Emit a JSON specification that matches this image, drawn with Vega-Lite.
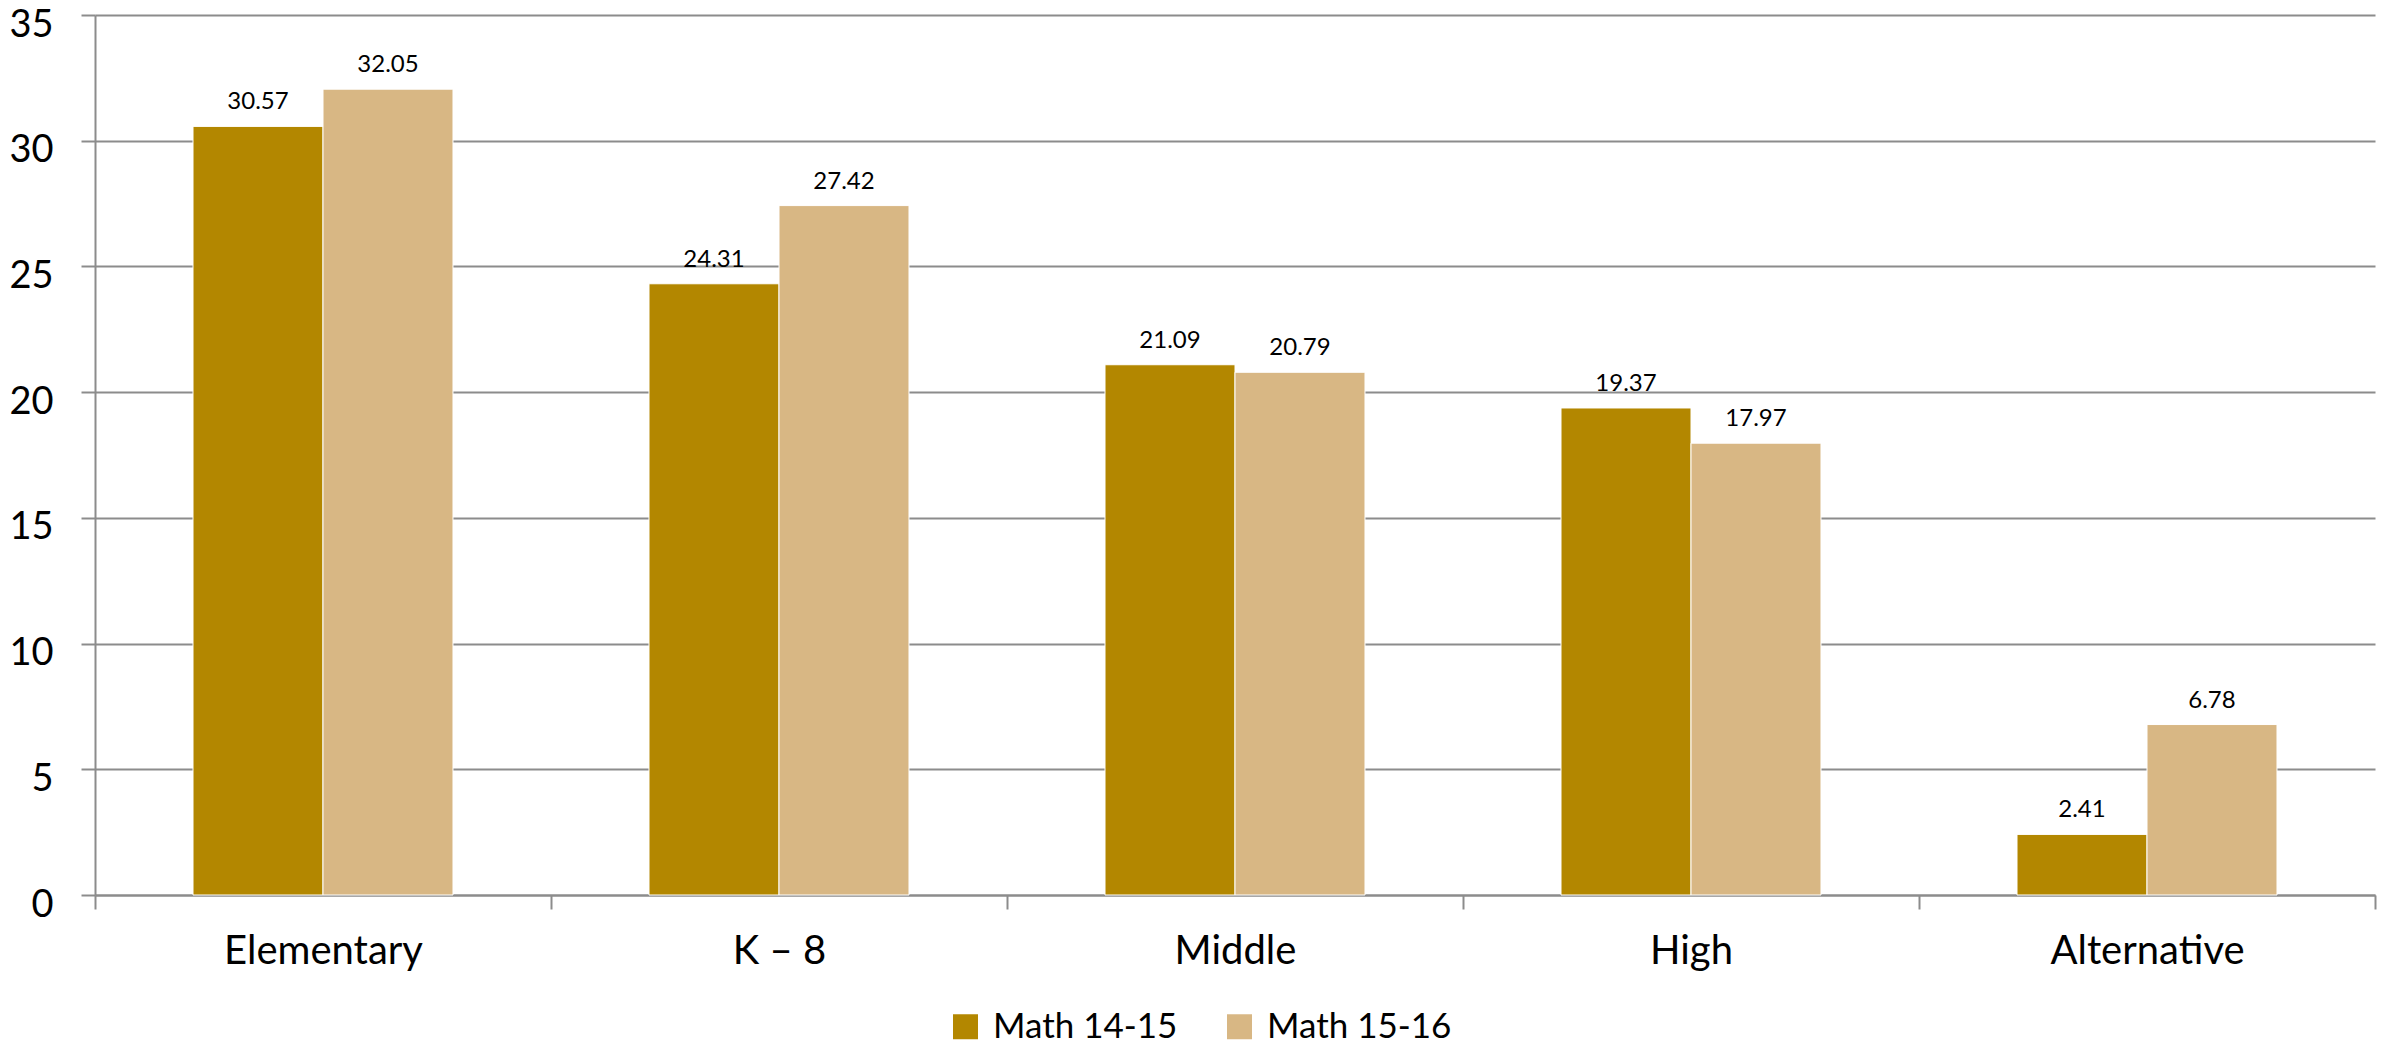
{
  "$schema": "https://vega.github.io/schema/vega-lite/v6.json",
  "autosize": "none",
  "width": 2280,
  "height": 880,
  "padding": {"left": 95, "top": 15, "right": 12, "bottom": 153},
  "background": "white",
  "config": {
    "view": {"stroke": null},
    "font": "Lato",
    "axis": {"labelFont": "Lato", "labelColor": "#000000"}
  },
  "data": {
    "values": [
      {"cat": "Elementary", "series": "Math 14-15", "value": 30.57},
      {"cat": "Elementary", "series": "Math 15-16", "value": 32.05},
      {"cat": "K – 8", "series": "Math 14-15", "value": 24.31},
      {"cat": "K – 8", "series": "Math 15-16", "value": 27.42},
      {"cat": "Middle", "series": "Math 14-15", "value": 21.09},
      {"cat": "Middle", "series": "Math 15-16", "value": 20.79},
      {"cat": "High", "series": "Math 14-15", "value": 19.37},
      {"cat": "High", "series": "Math 15-16", "value": 17.97},
      {"cat": "Alternative", "series": "Math 14-15", "value": 2.41},
      {"cat": "Alternative", "series": "Math 15-16", "value": 6.78}
    ]
  },
  "encoding": {
    "x": {
      "field": "cat",
      "type": "nominal",
      "sort": null,
      "title": null,
      "scale": {"paddingInner": 0, "paddingOuter": 0},
      "axis": {
        "tickBand": "extent",
        "labelAngle": 0,
        "labelFontSize": 40,
        "labelLimit": 0,
        "labelPadding": 22,
        "tickSize": 14,
        "tickColor": "#8c8c8c",
        "tickWidth": 2,
        "domainColor": "#8c8c8c",
        "domainWidth": 2,
        "grid": false
      }
    },
    "xOffset": {
      "field": "series",
      "type": "nominal",
      "sort": null,
      "scale": {"paddingInner": 0, "paddingOuter": 0.754}
    },
    "y": {
      "field": "value",
      "type": "quantitative",
      "title": null,
      "scale": {"domain": [0, 35], "nice": false},
      "axis": {
        "values": [0, 5, 10, 15, 20, 25, 30, 35],
        "labelFontSize": 38,
        "labelPadding": 28,
        "labelOffset": 10,
        "tickSize": 14,
        "tickColor": "#8c8c8c",
        "tickWidth": 2,
        "domainColor": "#8c8c8c",
        "domainWidth": 2,
        "grid": true,
        "gridColor": "#8c8c8c",
        "gridWidth": 2
      }
    }
  },
  "layer": [
    {
      "mark": {"type": "bar", "stroke": "white", "strokeWidth": 1},
      "encoding": {
        "color": {
          "field": "series",
          "type": "nominal",
          "sort": null,
          "scale": {"domain": ["Math 14-15", "Math 15-16"], "range": ["#B38700", "#D8B784"]},
          "legend": {
            "title": null,
            "orient": "none",
            "direction": "horizontal",
            "legendX": 853,
            "legendY": 994,
            "symbolType": "square",
            "symbolSize": 625,
            "symbolStrokeWidth": 0,
            "labelFontSize": 35,
            "labelFont": "Lato",
            "labelColor": "#000000",
            "labelLimit": 0,
            "labelOffset": 10,
            "columnPadding": 44
          }
        }
      }
    },
    {
      "mark": {"type": "text", "fontSize": 24, "baseline": "alphabetic", "dy": -17, "color": "#000000"},
      "encoding": {
        "text": {"field": "value", "type": "quantitative", "format": ".2f"}
      }
    }
  ]
}
